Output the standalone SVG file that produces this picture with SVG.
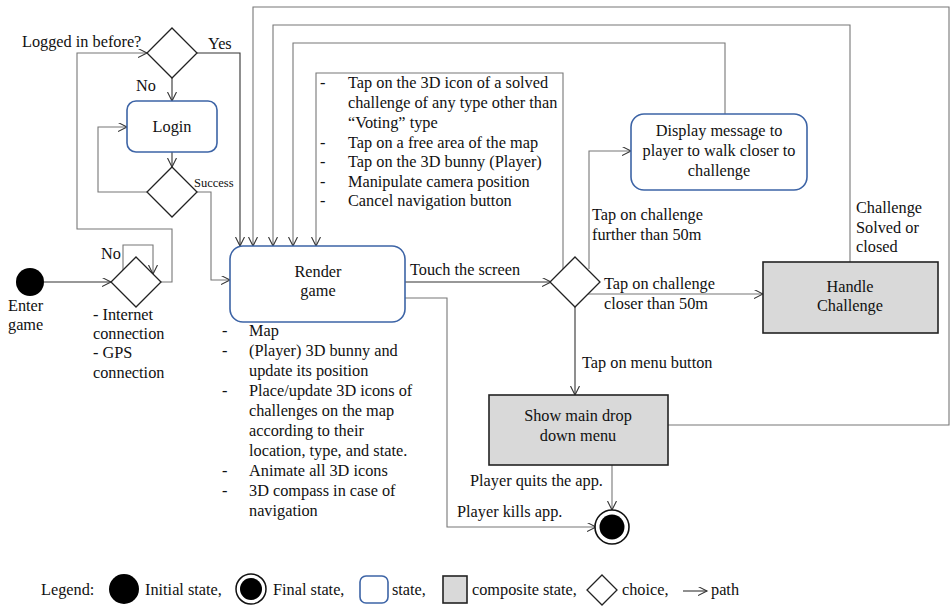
<svg xmlns="http://www.w3.org/2000/svg" width="951" height="606" viewBox="0 0 951 606" font-family="'Liberation Serif', Tinos, 'Times New Roman', Times, serif">
<defs>
<marker id="arr" markerUnits="userSpaceOnUse" markerWidth="12" markerHeight="12" refX="9" refY="4.5" orient="auto">
<path d="M0,0 L9,4.5 L0,9" fill="none" stroke="#333" stroke-width="1.1"/>
</marker>
</defs>
<style>
text{font-family:'Liberation Serif', Tinos, 'Times New Roman', Times, serif;font-size:16.3px;fill:#111}
.sm{font-size:12.5px}
.mid{text-anchor:middle}
.st{fill:#fff;stroke:#3d64a6;stroke-width:1.6}
.cs{fill:#d9d9d9;stroke:#222;stroke-width:1.6}
.ch{fill:#fff;stroke:#222;stroke-width:1.3}
.c{fill:none;stroke:#777;stroke-width:1.1}
.k{fill:none;stroke:#333;stroke-width:1.1}
</style>
<rect width="951" height="606" fill="#fff"/>

<g id="connectors">
<path class="c" d="M161,282 H172 V229 H77 V53 H147" marker-end="url(#arr)"/>
<path class="c" d="M123,270 V245 H153 V274" marker-end="url(#arr)"/>
<path class="k" d="M44,282 H111" marker-end="url(#arr)"/>
<path class="k" d="M172,78 V101" marker-end="url(#arr)"/>
<path class="k" d="M197,53 H240 V246" marker-end="url(#arr)"/>
<path class="k" d="M172,152 V167" marker-end="url(#arr)"/>
<path class="c" d="M147,192 H98 V127 H127" marker-end="url(#arr)"/>
<path class="c" d="M197,192 H211 V280 H230" marker-end="url(#arr)"/>
<path class="c" d="M668,425 H949 V7 H253 V246" marker-end="url(#arr)"/>
<path class="c" d="M850,262 V25 H273 V246" marker-end="url(#arr)"/>
<path class="c" d="M725,114 V43 H293 V246" marker-end="url(#arr)"/>
<path class="c" d="M563,270 V73 H316 V246" marker-end="url(#arr)"/>
<path class="k" d="M405,282 H551" marker-end="url(#arr)"/>
<path class="c" d="M589,269 V151 H631" marker-end="url(#arr)"/>
<path class="c" d="M588,294 H763" marker-end="url(#arr)"/>
<path class="k" d="M575,307 V395" marker-end="url(#arr)"/>
<path class="c" d="M612,465 V510" marker-end="url(#arr)"/>
<path class="c" d="M405,298 H447 V527 H596" marker-end="url(#arr)"/>
</g>

<g id="label-logged">
<text x="22" y="47">Logged in before?</text>
<text x="208" y="49">Yes</text>
<text x="136" y="91">No</text>
</g>

<g id="choice-logged">
<polygon class="ch" points="172,28 197,53 172,78 147,53"/>
</g>

<g id="login">
<rect class="st" x="127" y="101" width="90" height="51" rx="9"/>
<text class="mid" x="172" y="132">Login</text>
</g>

<g id="choice-success">
<polygon class="ch" points="172,167 197,192 172,217 147,192"/>
<text class="sm" x="194" y="187">Success</text>
</g>

<g id="initial">
<circle cx="30" cy="282" r="14" fill="#000"/>
<text x="8" y="311">Enter</text>
<text x="8" y="330">game</text>
</g>

<g id="choice-connection">
<polygon class="ch" points="136,257 161,282 136,307 111,282"/>
<text x="101" y="259">No</text>
<text x="93" y="320">- Internet</text>
<text x="93" y="339">connection</text>
<text x="93" y="358">- GPS</text>
<text x="93" y="378">connection</text>
</g>

<g id="render">
<rect class="st" x="230" y="246" width="175" height="76" rx="13"/>
<text class="mid" x="318" y="277">Render</text>
<text class="mid" x="318" y="296">game</text>
</g>

<g id="render-list">
<text x="222" y="336">-</text><text x="249" y="336">Map</text>
<text x="222" y="356">-</text><text x="249" y="356">(Player) 3D bunny and</text>
<text x="249" y="376">update its position</text>
<text x="222" y="396">-</text><text x="249" y="396">Place/update 3D icons of</text>
<text x="249" y="416">challenges on the map</text>
<text x="249" y="436">according to their</text>
<text x="249" y="456">location, type, and state.</text>
<text x="222" y="476">-</text><text x="249" y="476">Animate all 3D icons</text>
<text x="222" y="496">-</text><text x="249" y="496">3D compass in case of</text>
<text x="249" y="516">navigation</text>
</g>

<g id="tap-list">
<text x="320" y="88">-</text><text x="348" y="88">Tap on the 3D icon of a solved</text>
<text x="348" y="108">challenge of any type other than</text>
<text x="348" y="128">“Voting” type</text>
<text x="320" y="148">-</text><text x="348" y="148">Tap on a free area of the map</text>
<text x="320" y="167">-</text><text x="348" y="167">Tap on the 3D bunny (Player)</text>
<text x="320" y="187">-</text><text x="348" y="187">Manipulate camera position</text>
<text x="320" y="206">-</text><text x="348" y="206">Cancel navigation button</text>
</g>

<g id="choice-touch">
<polygon class="ch" points="575,257 600,282 575,307 550,282"/>
<text x="410" y="275">Touch the screen</text>
<text x="592" y="220">Tap on challenge</text>
<text x="592" y="240">further than 50m</text>
<text x="604" y="289">Tap on challenge</text>
<text x="604" y="309">closer than 50m</text>
<text x="582" y="368">Tap on menu button</text>
</g>

<g id="display-message">
<rect class="st" x="631" y="114" width="176" height="76" rx="13"/>
<text class="mid" x="719" y="136">Display message to</text>
<text class="mid" x="719" y="156">player to walk closer to</text>
<text class="mid" x="719" y="176">challenge</text>
</g>

<g id="handle-challenge">
<rect class="cs" x="763" y="262" width="175" height="71"/>
<text class="mid" x="850" y="292">Handle</text>
<text class="mid" x="850" y="311">Challenge</text>
<text x="856" y="213">Challenge</text>
<text x="856" y="233">Solved or</text>
<text x="856" y="252">closed</text>
</g>

<g id="main-menu">
<rect class="cs" x="489" y="395" width="179" height="70"/>
<text class="mid" x="578" y="421">Show main drop</text>
<text class="mid" x="578" y="441">down menu</text>
</g>

<g id="final">
<circle cx="612" cy="527" r="17" fill="#fff" stroke="#111" stroke-width="1.6"/>
<circle cx="612" cy="527" r="12.5" fill="#000"/>
<text x="470" y="486">Player quits the app.</text>
<text x="457" y="517">Player kills app.</text>
</g>

<g id="legend">
<text x="41" y="595">Legend:</text>
<circle cx="124" cy="589" r="15" fill="#000"/>
<text x="145" y="595">Initial state,</text>
<circle cx="251" cy="589" r="15" fill="#fff" stroke="#111" stroke-width="1.5"/>
<circle cx="251" cy="589" r="11" fill="#000"/>
<text x="273" y="595">Final state,</text>
<rect class="st" x="360" y="576" width="28" height="27" rx="6" stroke-width="1.2"/>
<text x="392" y="595">state,</text>
<rect class="cs" x="443" y="576" width="24" height="27" stroke-width="1.2"/>
<text x="472" y="595">composite state,</text>
<polygon class="ch" points="602,575 617,590 602,605 587,590"/>
<text x="622" y="595">choice,</text>
<path d="M683,591 H707" stroke="#333" stroke-width="1.1" fill="none" marker-end="url(#arr)"/>
<text x="711" y="595">path</text>
</g>
</svg>
